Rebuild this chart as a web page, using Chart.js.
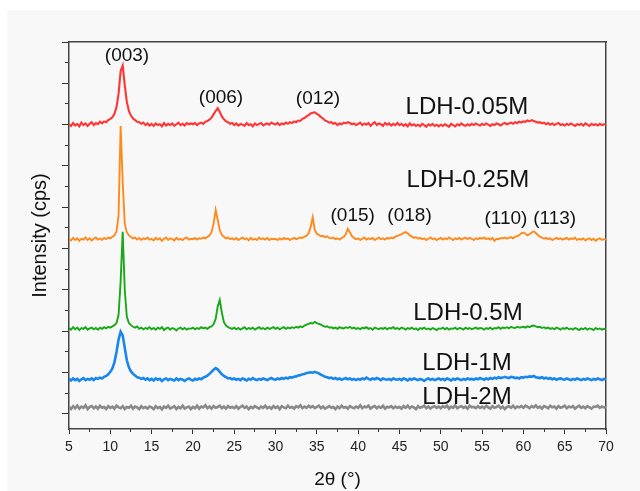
<!DOCTYPE html>
<html><head><meta charset="utf-8">
<script src="https://cdn.jsdelivr.net/npm/chart.js@4/dist/chart.umd.min.js"></script>
<style>
html,body{margin:0;padding:0;background:#fff;}
#bg{position:absolute;left:7px;top:10px;width:633px;height:481px;background:#f8f8f8;}
#wrap{position:absolute;left:0;top:0;width:640px;height:491px;}
</style></head><body>
<div id="bg"></div>
<div id="wrap"><canvas id="c" width="640" height="491"></canvas></div>
<script>
// 2-theta grid (degrees)
const twoTheta = [
5,5.25,5.5,5.75,6,6.25,6.5,6.75,7,7.25,7.5,7.75,8,8.25,8.5,8.75,9,9.25,9.5,9.75,
10,10.25,10.5,10.75,11,11.25,11.5,11.75,12,12.25,12.5,12.75,13,13.25,13.5,13.75,14,14.25,14.5,14.75,
15,15.25,15.5,15.75,16,16.25,16.5,16.75,17,17.25,17.5,17.75,18,18.25,18.5,18.75,19,19.25,19.5,19.75,
20,20.25,20.5,20.75,21,21.25,21.5,21.75,22,22.25,22.5,22.75,23,23.25,23.5,23.75,24,24.25,24.5,24.75,
25,25.25,25.5,25.75,26,26.25,26.5,26.75,27,27.25,27.5,27.75,28,28.25,28.5,28.75,29,29.25,29.5,29.75,
30,30.25,30.5,30.75,31,31.25,31.5,31.75,32,32.25,32.5,32.75,33,33.25,33.5,33.75,34,34.25,34.5,34.75,
35,35.25,35.5,35.75,36,36.25,36.5,36.75,37,37.25,37.5,37.75,38,38.25,38.5,38.75,39,39.25,39.5,39.75,
40,40.25,40.5,40.75,41,41.25,41.5,41.75,42,42.25,42.5,42.75,43,43.25,43.5,43.75,44,44.25,44.5,44.75,
45,45.25,45.5,45.75,46,46.25,46.5,46.75,47,47.25,47.5,47.75,48,48.25,48.5,48.75,49,49.25,49.5,49.75,
50,50.25,50.5,50.75,51,51.25,51.5,51.75,52,52.25,52.5,52.75,53,53.25,53.5,53.75,54,54.25,54.5,54.75,
55,55.25,55.5,55.75,56,56.25,56.5,56.75,57,57.25,57.5,57.75,58,58.25,58.5,58.75,59,59.25,59.5,59.75,
60,60.25,60.5,60.75,61,61.25,61.5,61.75,62,62.25,62.5,62.75,63,63.25,63.5,63.75,64,64.25,64.5,64.75,
65,65.25,65.5,65.75,66,66.25,66.5,66.75,67,67.25,67.5,67.75,68,68.25,68.5,68.75,69,69.25,69.5,69.75,
70];

// Intensities (offset-stacked, arbitrary cps units)
const ldh005 = [
7010,6970,7040,6980,7020,6960,7050,6990,7030,6970,7020,7060,6990,7040,7010,7070,7030,7080,7060,7110,
7140,7180,7260,7420,7750,8300,8430,7950,7550,7330,7220,7150,7110,7070,7060,7020,7050,6990,7030,6980,
7020,6970,7030,6990,7010,6960,7040,6980,7020,6990,7030,6970,7010,7050,6990,7020,6980,7040,7010,7030,
7010,7040,6990,7030,7050,7020,7070,7090,7120,7170,7250,7330,7400,7310,7200,7130,7080,7060,7020,7040,
6990,7030,6980,7020,7000,6970,7040,6990,7010,6960,7030,6990,7020,7040,6980,7010,7030,7000,7050,7020,
7000,7040,6990,7030,7010,7050,7020,7060,7040,7080,7060,7100,7090,7140,7160,7200,7230,7270,7290,7300,
7260,7230,7180,7150,7100,7080,7050,7060,7020,7040,6990,7030,7010,7050,7030,7060,7040,7010,7030,6990,
7020,7050,6990,7030,7000,7040,6970,7020,7060,6990,7030,7010,6970,7040,7000,7030,6980,7020,6990,7040,
6990,7020,6970,7010,6960,7030,6980,7010,6970,7000,6960,7020,6990,6950,7010,6980,7020,6970,7000,6960,
7000,6970,7010,6980,6950,7020,6990,6960,7010,6980,7030,6990,6970,7010,6980,7020,6990,7030,7000,6980,
7020,6990,7030,7000,6970,7010,6990,7030,7010,6980,7020,7040,7010,7030,7050,7020,7060,7040,7070,7050,
7080,7070,7100,7080,7110,7090,7070,7050,7060,7030,7050,7010,7040,7000,7030,6990,7020,7040,6990,7010,
6980,7020,6990,7030,7000,6970,7010,6990,7020,6980,7030,7000,6970,7020,6990,7010,6980,7020,6990,7010,
7000];

const ldh025 = [
4240,4200,4260,4210,4250,4190,4240,4220,4270,4210,4250,4200,4240,4270,4220,4250,4210,4260,4230,4270,
4250,4290,4320,4420,4800,6970,5600,4600,4400,4320,4280,4250,4270,4220,4260,4210,4250,4230,4270,4220,
4240,4200,4260,4220,4250,4190,4240,4270,4210,4250,4230,4200,4260,4220,4240,4210,4250,4270,4220,4240,
4230,4260,4220,4250,4240,4270,4250,4290,4320,4400,4600,4940,4700,4450,4330,4290,4250,4270,4230,4250,
4220,4260,4210,4240,4270,4230,4250,4200,4260,4220,4240,4210,4270,4230,4250,4220,4260,4210,4240,4230,
4240,4210,4250,4220,4260,4230,4250,4210,4240,4260,4230,4250,4270,4260,4290,4310,4370,4520,4760,4450,
4360,4330,4300,4310,4280,4300,4260,4250,4270,4230,4250,4220,4260,4280,4350,4480,4400,4300,4260,4230,
4250,4210,4240,4270,4220,4250,4230,4260,4210,4240,4270,4230,4250,4220,4260,4240,4270,4250,4290,4310,
4330,4350,4380,4400,4370,4320,4290,4260,4280,4240,4260,4230,4250,4210,4240,4270,4230,4250,4210,4240,
4260,4220,4250,4230,4270,4240,4210,4250,4230,4260,4220,4250,4270,4230,4260,4240,4210,4250,4230,4260,
4240,4270,4230,4250,4220,4260,4190,4240,4230,4260,4250,4270,4240,4260,4280,4250,4290,4300,4330,4370,
4390,4360,4320,4350,4390,4420,4380,4330,4290,4270,4240,4260,4230,4250,4210,4240,4260,4230,4250,4220,
4240,4260,4220,4250,4230,4270,4210,4240,4220,4250,4200,4230,4250,4210,4240,4190,4230,4250,4210,4230,
4220];

const ldh05 = [
2080,2040,2100,2050,2090,2030,2080,2060,2100,2040,2070,2090,2050,2080,2040,2090,2060,2100,2070,2110,
2090,2120,2150,2200,2400,3200,4410,3000,2350,2200,2150,2110,2090,2120,2060,2090,2050,2080,2060,2100,
2050,2080,2040,2090,2060,2100,2030,2070,2090,2040,2080,2060,2020,2070,2090,2050,2080,2040,2070,2060,
2090,2050,2080,2060,2100,2070,2090,2060,2100,2120,2170,2300,2600,2760,2450,2220,2140,2100,2080,2060,
2090,2050,2080,2040,2070,2100,2050,2080,2060,2090,2040,2070,2100,2060,2080,2050,2090,2060,2080,2100,
2060,2090,2050,2080,2100,2060,2090,2070,2100,2080,2110,2090,2120,2100,2140,2160,2180,2200,2190,2230,
2200,2180,2160,2130,2110,2120,2090,2100,2070,2090,2060,2100,2080,2070,2100,2080,2110,2070,2090,2060,
2080,2050,2090,2070,2100,2060,2080,2040,2090,2070,2050,2080,2060,2090,2050,2080,2070,2100,2060,2080,
2050,2090,2070,2040,2080,2060,2090,2050,2070,2030,2080,2060,2090,2050,2070,2040,2080,2060,2030,2070,
2060,2090,2050,2080,2040,2070,2060,2090,2050,2080,2070,2040,2090,2060,2080,2050,2070,2090,2060,2080,
2070,2040,2080,2060,2090,2050,2080,2070,2100,2060,2090,2080,2100,2070,2110,2090,2080,2110,2090,2100,
2110,2090,2120,2100,2130,2140,2120,2100,2110,2080,2100,2070,2090,2060,2080,2050,2090,2070,2040,2080,
2060,2090,2050,2070,2040,2080,2060,2030,2070,2050,2080,2040,2070,2060,2030,2080,2050,2070,2040,2060,
2050];

const ldh1 = [
850,810,860,820,850,800,840,870,820,850,830,860,820,870,850,880,860,900,920,960,
1020,1100,1250,1500,1800,1990,1900,1600,1300,1130,1030,970,930,890,880,850,870,830,860,820,
850,810,860,830,850,800,840,860,820,850,830,810,860,820,850,830,800,840,860,830,
810,850,830,860,840,880,900,930,970,1020,1070,1110,1080,1020,960,920,890,860,870,840,
860,830,850,820,860,840,810,850,830,870,840,820,850,830,860,840,820,850,870,840,
830,860,840,870,850,880,860,890,880,900,910,930,940,960,970,990,1000,1010,1000,1020,
1000,980,950,930,900,890,870,880,850,870,840,860,830,850,870,840,860,830,850,820,
850,830,860,840,880,850,830,860,840,870,850,820,860,840,830,850,820,860,840,830,
850,820,860,840,810,850,830,860,840,820,850,830,800,840,860,830,850,820,840,860,
830,850,820,860,840,810,850,830,860,840,820,850,830,860,840,850,830,860,840,870,
850,830,860,840,870,850,880,860,890,870,880,900,880,870,900,890,870,880,860,890,
880,900,890,910,900,920,890,880,870,890,860,880,850,870,840,860,830,850,860,840,
830,860,840,820,850,830,860,840,820,850,830,860,840,820,850,830,860,840,820,850,
840];

const ldh2 = [
170,120,190,140,200,130,180,150,210,120,170,190,140,180,130,200,150,170,120,190,
150,180,130,200,160,140,190,120,170,150,200,130,180,160,120,190,140,170,130,180,
160,120,190,140,170,110,180,150,200,130,160,190,120,170,140,200,130,160,180,120,
170,140,200,130,180,160,210,140,180,130,190,150,170,200,140,180,130,190,150,170,
140,190,130,170,200,150,180,120,170,140,190,160,130,180,150,200,140,170,130,190,
150,180,120,190,160,140,200,150,170,130,190,160,210,140,180,150,200,160,190,140,
170,200,140,180,130,160,190,150,170,120,180,140,200,150,170,130,190,160,140,180,
150,210,140,180,160,200,130,170,190,140,180,150,200,130,170,160,190,140,180,150,
170,130,190,150,200,140,180,160,120,190,150,170,200,140,180,130,170,190,150,180,
140,190,160,200,130,180,150,210,140,170,190,150,180,130,200,160,170,140,190,150,
180,140,200,160,130,190,150,170,200,140,180,120,170,190,150,200,140,180,160,190,
150,200,170,140,190,160,210,150,180,130,190,170,140,200,160,180,130,190,150,170,
200,140,180,160,190,130,170,200,150,180,140,190,160,130,180,170,200,150,180,160,
170];

const seriesNames = ['LDH-0.05M','LDH-0.25M','LDH-0.5M','LDH-1M','LDH-2M'];
const seriesValues = [ldh005, ldh025, ldh05, ldh1, ldh2];
const seriesColors = ['#ff3535','#ff8a1c','#17a917','#1786ef','#8a8a8a'];
const seriesWidths = [2.1, 1.9, 1.9, 2.6, 2.6];

const xMajorTicks = [5,10,15,20,25,30,35,40,45,50,55,60,65,70];
const xMinorTicks = [7.5,12.5,17.5,22.5,27.5,32.5,37.5,42.5,47.5,52.5,57.5,62.5,67.5];
const yMajorTicks = [0,1000,2000,3000,4000,5000,6000,7000,8000,9000];
const yMinorTicks = [500,1500,2500,3500,4500,5500,6500,7500,8500];

// Peak / sample annotations (text, 2θ position, intensity position)
const annTexts = ['(003)','(006)','(012)','LDH-0.05M','LDH-0.25M','(015)','(018)','(110)','(113)','LDH-0.5M','LDH-1M','LDH-2M'];
const annX = [12.02,23.40,35.14,53.17,53.29,39.34,46.22,57.89,63.79,53.29,53.17,53.17];
const annY = [8541,7532,7501,7259,5500,4670,4670,4585,4585,2274,1065,242];

const FAM = '"Liberation Sans", Arial, Helvetica, sans-serif';

const annPlugin = {
  id: 'ann',
  afterDatasetsDraw(chart) {
    const {ctx, scales: {x, y}} = chart;
    ctx.save();
    ctx.fillStyle = '#111';
    ctx.textAlign = 'center';
    ctx.textBaseline = 'alphabetic';
    annTexts.forEach((t, i) => {
      ctx.font = (t.startsWith('LDH') ? '24px ' : '19px ') + FAM;
      ctx.fillText(t, x.getPixelForValue(annX[i]), y.getPixelForValue(annY[i]));
    });
    ctx.restore();
  }
};

const datasets = seriesNames.map((n, i) => ({
  label: n,
  data: twoTheta.map((t, k) => ({x: t, y: seriesValues[i][k]})),
  borderColor: seriesColors[i],
  borderWidth: seriesWidths[i],
  pointRadius: 0,
  tension: 0,
  fill: false
}));

const setTicks = arr => s => { s.ticks = arr.map(v => ({value: v})); };
const AX = '#444';

new Chart(document.getElementById('c'), {
  type: 'line',
  data: {datasets},
  options: {
    responsive: false,
    animation: false,
    devicePixelRatio: 1,
    layout: {padding: {left: 0, top: 42, right: 34, bottom: 0}},
    plugins: {legend: {display: false}, tooltip: {enabled: false}},
    scales: {
      x: {
        type: 'linear', position: 'bottom', min: 5, max: 70, weight: 1,
        afterBuildTicks: setTicks(xMajorTicks),
        afterFit: s => { s.height = 62; },
        grid: {drawOnChartArea: false, tickLength: 5, tickColor: '#333', tickWidth: 1},
        border: {color: AX, width: 1.5},
        ticks: {padding: 5, color: '#222', font: {size: 14, family: FAM}, maxRotation: 0, autoSkip: false},
        title: {display: true, text: '2θ (°)', color: '#111', font: {size: 19, family: FAM}, padding: {top: 0, bottom: 0}}
      },
      x2: {
        type: 'linear', position: 'bottom', min: 5, max: 70, weight: 0,
        afterBuildTicks: setTicks(xMinorTicks),
        afterFit: s => { s.height = 0; },
        grid: {drawOnChartArea: false, tickLength: 3, tickColor: '#333', tickWidth: 1},
        border: {display: false},
        ticks: {display: false}
      },
      xTop: {
        type: 'linear', position: 'top', min: 5, max: 70,
        afterFit: s => { s.height = 0; },
        grid: {drawOnChartArea: false, drawTicks: false},
        border: {color: AX, width: 1.5},
        ticks: {display: false}
      },
      y: {
        type: 'linear', position: 'left', min: -363, max: 9000, weight: 1,
        afterBuildTicks: setTicks(yMajorTicks),
        afterFit: s => { s.width = 69; },
        grid: {drawOnChartArea: false, tickLength: 7, tickColor: '#333', tickWidth: 1},
        border: {color: AX, width: 1.5},
        ticks: {display: false},
        title: {display: true, text: 'Intensity (cps)', color: '#111', font: {size: 20, family: FAM}, padding: {top: 28, bottom: 0}}
      },
      y2: {
        type: 'linear', position: 'left', min: -363, max: 9000, weight: 0,
        afterBuildTicks: setTicks(yMinorTicks),
        afterFit: s => { s.width = 0; },
        grid: {drawOnChartArea: false, tickLength: 4, tickColor: '#333', tickWidth: 1},
        border: {display: false},
        ticks: {display: false}
      },
      yRight: {
        type: 'linear', position: 'right', min: -363, max: 9000,
        afterFit: s => { s.width = 0; },
        grid: {drawOnChartArea: false, drawTicks: false},
        border: {color: AX, width: 1.5},
        ticks: {display: false}
      }
    }
  },
  plugins: [annPlugin]
});
</script>
</body></html>
